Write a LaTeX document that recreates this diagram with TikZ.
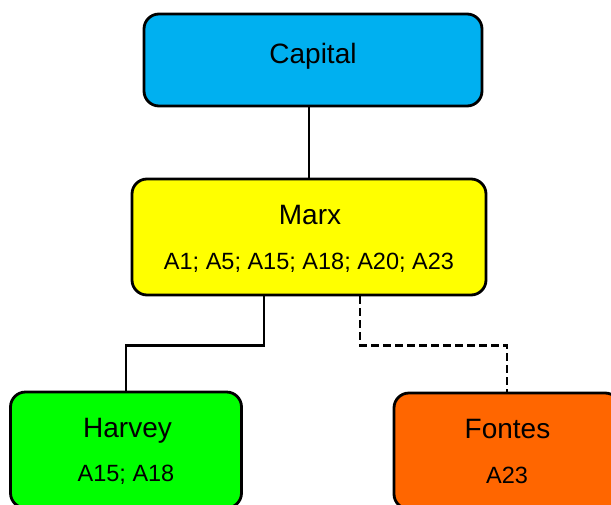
\documentclass[tikz,border=0pt]{standalone}
\usepackage{fontspec}
\setmainfont{Liberation Sans}
\begin{document}
\begin{tikzpicture}[x=1pt,y=-1pt,
  box/.style={draw=black, line width=2.8pt, rounded corners=15pt, inner sep=0pt},
  link/.style={draw=black, line width=2.8pt},
  dlink/.style={link, dash pattern=on 8pt off 4pt},
  label/.style={anchor=base, inner sep=0pt, text=black},
  title/.style={label, font=\fontsize{28}{32}\selectfont},
  refs/.style={label, font=\fontsize{23.5}{27}\selectfont}]
\useasboundingbox (0,0) rectangle (611,504);
\clip (0,0) rectangle (611,504);
% boxes
\node[box, fill={rgb,255:red,0;green,176;blue,240}, minimum width=338pt, minimum height=92pt] (capital) at (313,60) {};
\node[box, fill={rgb,255:red,255;green,255;blue,0}, minimum width=354pt, minimum height=116pt] (marx) at (309,237) {};
\node[box, fill={rgb,255:red,0;green,255;blue,0}, minimum width=231pt, minimum height=116pt] (harvey) at (126,450) {};
\node[box, fill={rgb,255:red,255;green,102;blue,0}, minimum width=226pt, minimum height=116pt] (fontes) at (507,451) {};
% texts
\node[title] (tcap) at (313,63) {Capital};
\node[title] (tmarx) at (310,224) {Marx};
\node[refs] (smarx) at (309,269) {A1; A5; A15; A18; A20; A23};
\node[title] (thar) at (127.5,437) {Harvey};
\node[refs] (shar) at (126,481) {A15; A18};
\node[title] (tfon) at (507.5,438) {Fontes};
\node[refs] (sfon) at (507,483) {A23};
% connectors
\draw[link] (marx.north) -- (marx.north |- capital.south);
\draw[link] ([xshift=-45pt]marx.south) -- ++(0,49) -| (harvey.north);
\draw[dlink] ([xshift=51pt]marx.south) -- ++(0,49) -| (fontes.north);
\end{tikzpicture}
\end{document}
